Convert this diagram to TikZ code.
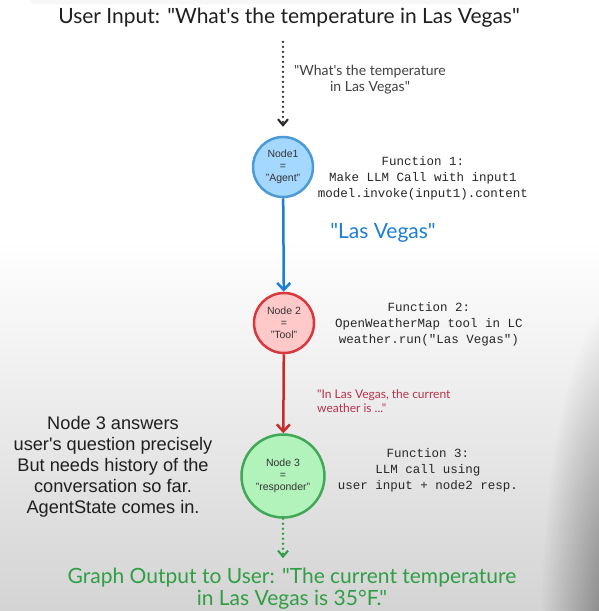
\documentclass[tikz,border=0pt]{standalone}
\usepackage{fontspec}
\setmainfont{Liberation Sans}
\setmonofont{Liberation Mono}
\newfontfamily\handfont{Lato}
\usetikzlibrary{arrows.meta,positioning,fadings}
\definecolor{agentline}{HTML}{4A9AD8}
\definecolor{agentfill}{HTML}{A5D8FF}
\definecolor{toolline}{HTML}{D9363E}
\definecolor{toolfill}{HTML}{FFC9C9}
\definecolor{respline}{HTML}{40A857}
\definecolor{respfill}{HTML}{B2F2BB}
\definecolor{flowblue}{HTML}{1C7ED6}
\definecolor{flowred}{HTML}{C92A2A}
\definecolor{outgreen}{HTML}{2F9E44}
\definecolor{notered}{HTML}{B8324A}
\tikzfading[name=fade corner, inner color=transparent!0, outer color=transparent!100]
\begin{document}
\begin{tikzpicture}[x=1pt, y=-1pt,
    every node/.style={inner sep=0pt},
    graphnode/.style={circle, line width=2.5pt, minimum size=60pt, align=center,
        font=\fontsize{10.5}{12}\selectfont, text=black!80},
    funcbox/.style={align=center, font=\ttfamily\fontsize{12.5}{16}\selectfont, text=black!85},
    hand/.style={align=center, font=\handfont\fontsize{21}{22}\selectfont},
    flow/.style={line width=2.5pt, -{Straight Barb[length=7pt, width=13pt, line width=2.5pt]}},
    dotflow/.style={line width=2.6pt, line cap=round, dash pattern=on 0pt off 5pt,
        -{Straight Barb[length=6pt, width=10pt, line width=2pt]}}]
    \useasboundingbox (0,0) rectangle (599,611);
    % background of the screenshot
    \fill[white] (0,0) rectangle (599,611);
    \shade[top color=white, bottom color=black!17] (0,240) rectangle (599,611);
    \fill[black, opacity=0.45, path fading=fade corner] (540,300) rectangle (700,980);
    \fill[black!3, rounded corners=3pt] (30,-4) rectangle (480,4);

    % nodes
    \node[hand, text=black!88] (input) at (289,18) {User Input: "What's the temperature in Las Vegas"};
    \node[graphnode, draw=agentline, fill=agentfill] (agent) at (283,167) {Node1\\=\\"Agent"};
    \node[graphnode, draw=toolline, fill=toolfill] (tool) at (284,323) {Node 2\\=\\"Tool"};
    \node[graphnode, draw=respline, fill=respfill, minimum size=83pt] (resp) at (283,476)
        {Node 3\\=\\"responder"};
    \node[hand, text=outgreen] (output) at (292,589)
        {Graph Output to User: "The current temperature\\in Las Vegas is 35°F."};

    % function texts
    \node[funcbox] (func1) at (423,178) {Function 1:\\Make LLM Call with input1\\model.invoke(input1).content};
    \node[funcbox] (func2) at (429,324) {Function 2:\\OpenWeatherMap tool in LC\\weather.run("Las Vegas")};
    \node[funcbox] (func3) at (428,470) {Function 3:\\LLM call using\\user input + node2 resp.};

    % notes
    \node[hand, font=\handfont\fontsize{14}{16}\selectfont, text=black!75] (question) at (370,80)
        {"What's the temperature\\in Las Vegas"};
    \node[hand, font=\handfont\fontsize{21}{22}\selectfont, text=flowblue] (city) at (383,233) {"Las Vegas"};
    \node[hand, font=\handfont\fontsize{12}{14}\selectfont, text=notered, align=left, anchor=west]
        (weather) at (317,401) {"In Las Vegas, the current\\weather is ..."};
    \node[align=center, font=\fontsize{18.2}{21}\selectfont, text=black!88] (history) at (113,467)
        {Node 3 answers\\user\textquotesingle s question precisely\\But needs history of the\\conversation so far.\\AgentState comes in.};

    % connectors
    \draw[dotflow, black!85, shorten <=14pt, shorten >=9pt] (agent |- input.south) -- (agent);
    \draw[flow, flowblue] (agent) -- (tool);
    \draw[flow, flowred] (tool) -- (resp);
    \draw[dotflow, outgreen, shorten >=10pt] (resp) -- (resp |- output.north);
\end{tikzpicture}
\end{document}
